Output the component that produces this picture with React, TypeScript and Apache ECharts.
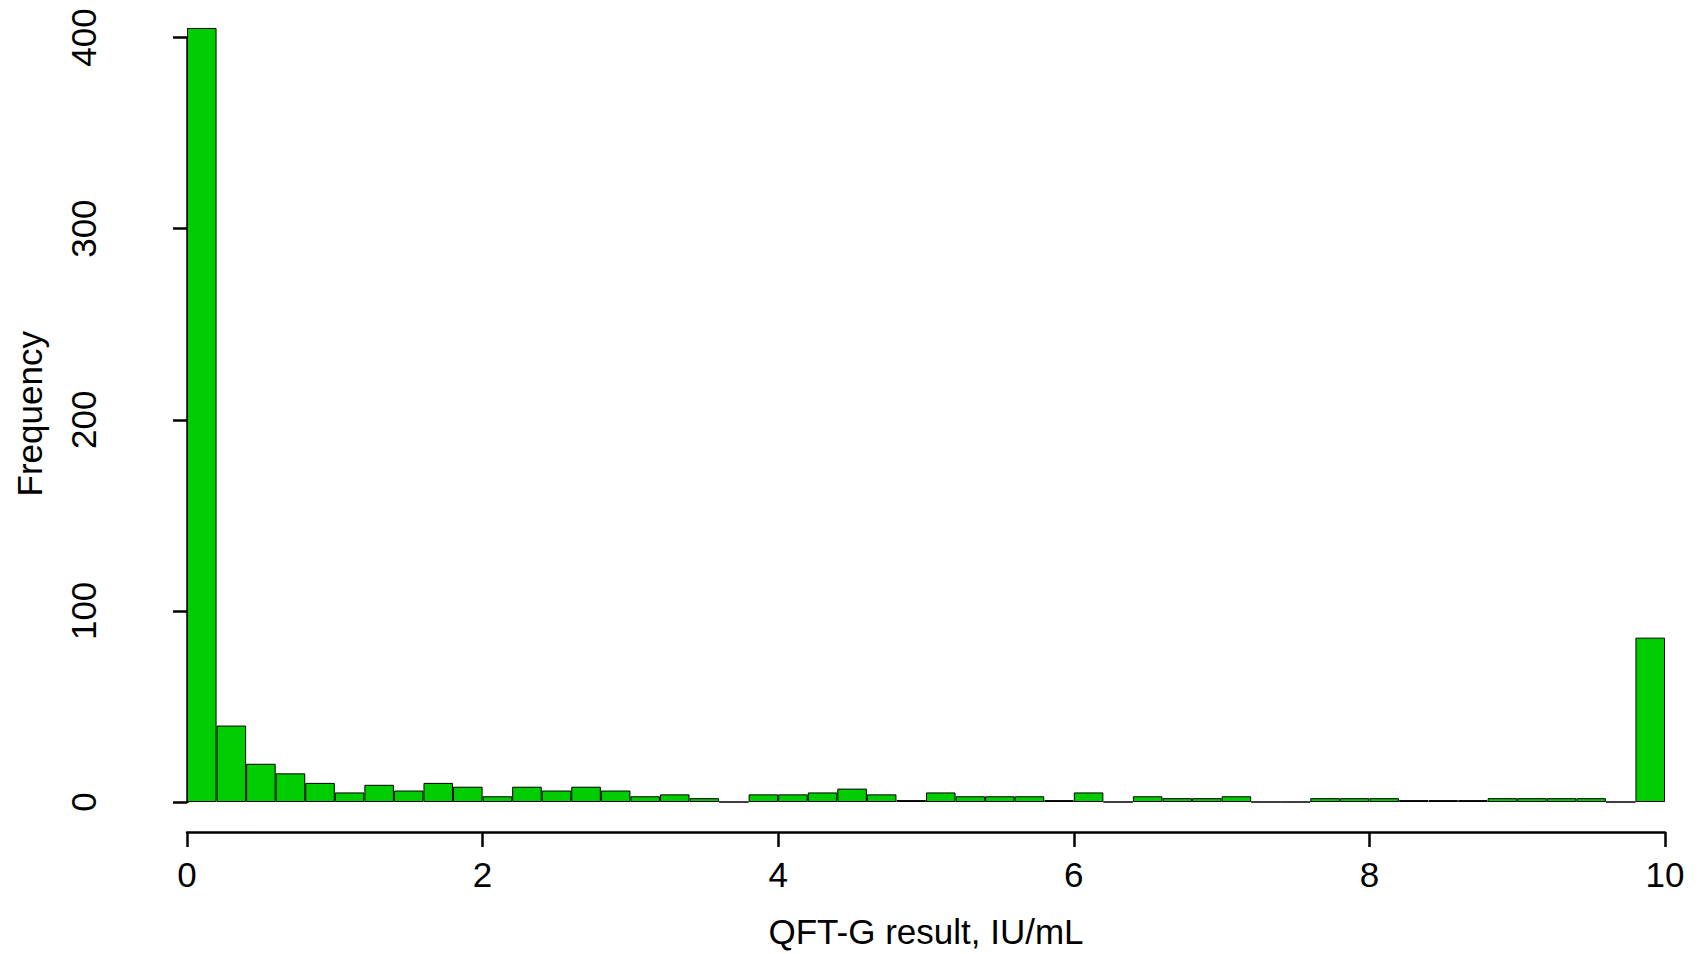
import React, { useEffect, useRef } from "react";
import * as echarts from "echarts";

// Histogram of QFT-G results, bins of width 0.2 IU/mL from 0 to 10
const binWidth = 0.2;
const counts = [
  405, 40, 20, 15, 10, 5, 9, 6, 10, 8,
  3, 8, 6, 8, 6, 3, 4, 2, 0, 4,
  4, 5, 7, 4, 1, 5, 3, 3, 3, 1,
  5, 0, 3, 2, 2, 3, 0, 0, 2, 2,
  2, 1, 1, 1, 2, 2, 2, 2, 0, 86,
];
const binLabels = counts.map(
  (_, i) => `${(i * binWidth).toFixed(1)}–${((i + 1) * binWidth).toFixed(1)}`
);
const xTicks = [0, 2, 4, 6, 8, 10];
const yTicks = [0, 100, 200, 300, 400];
const xTitle = "QFT-G result, IU/mL";
const yTitle = "Frequency";

const FONT = '"Liberation Sans", Arial, Helvetica, sans-serif';

export default function App() {
  const ref = useRef<HTMLDivElement>(null);
  useEffect(() => {
    if (!ref.current) return;
    const chart = echarts.init(ref.current, undefined, { renderer: "svg" });
    const axisLine = { show: true, lineStyle: { color: "#000", width: 2.5 } };
    chart.setOption({
      animation: false,
      backgroundColor: "#fff",
      grid: { left: 187, right: 37, top: 37.5, bottom: 150.7, containLabel: false },
      xAxis: [
        {
          type: "category",
          data: binLabels,
          show: false,
          boundaryGap: true,
        },
        {
          type: "value",
          min: xTicks[0],
          max: xTicks[xTicks.length - 1],
          interval: 2,
          position: "bottom",
          offset: 30,
          axisLine,
          axisTick: { show: true, length: 15, lineStyle: { color: "#000", width: 2.5 } },
          splitLine: { show: false },
          axisLabel: { fontSize: 35, color: "#000", fontFamily: FONT, margin: 25 },
          name: xTitle,
          nameLocation: "middle",
          nameGap: 82,
          nameTextStyle: { fontSize: 35, color: "#000", fontFamily: FONT },
        },
      ],
      yAxis: {
        type: "value",
        min: yTicks[0],
        max: yTicks[yTicks.length - 1],
        interval: 100,
        offset: 60,
        axisLine,
        axisTick: { show: true, length: 14, lineStyle: { color: "#000", width: 2.5 } },
        splitLine: { show: false },
        axisLabel: { fontSize: 35, color: "#000", fontFamily: FONT, rotate: 90, margin: 26 },
        name: yTitle,
        nameLocation: "middle",
        nameGap: 80,
        nameTextStyle: { fontSize: 35, color: "#000", fontFamily: FONT, padding: [0, 0, 0, 12] },
      },
      series: [
        {
          type: "bar",
          xAxisIndex: 0,
          data: counts,
          barCategoryGap: "0%",
          clip: false,
          itemStyle: { color: "#00CD00", borderColor: "#000", borderWidth: 1 },
        },
      ],
    });
    return () => chart.dispose();
  }, []);
  return (
    <div
      ref={ref}
      style={{ position: "fixed", left: 0, top: 0, width: 1702, height: 954, background: "#fff" }}
    />
  );
}
